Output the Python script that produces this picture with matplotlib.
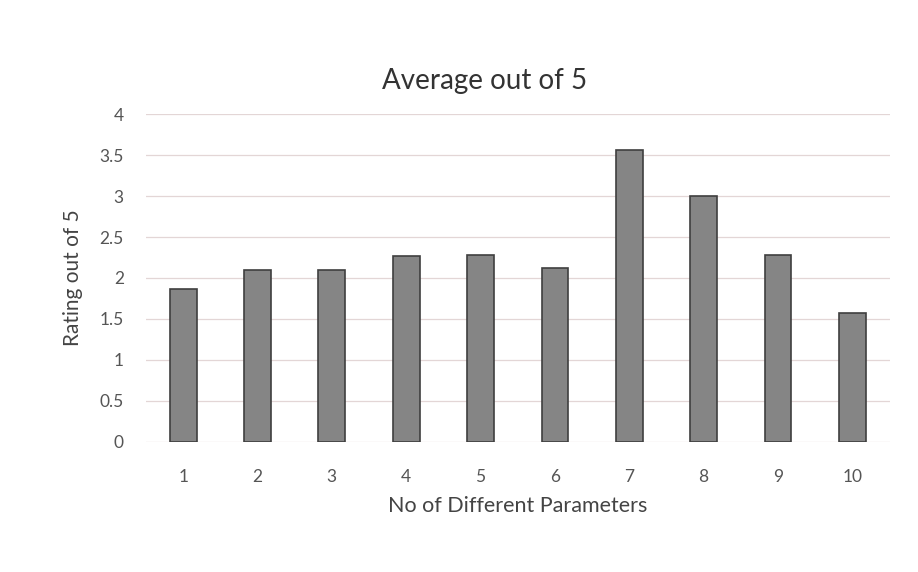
import matplotlib
matplotlib.use("Agg")
import matplotlib.pyplot as plt

# 数据：参数个数与平均评分
categories = [1, 2, 3, 4, 5, 6, 7, 8, 9, 10]
ratings = [1.86, 2.1, 2.1, 2.27, 2.28, 2.12, 3.56, 3.0, 2.28, 1.57]
y_ticks = [0, 0.5, 1, 1.5, 2, 2.5, 3, 3.5, 4]

plt.rcParams["font.family"] = ["Lato", "DejaVu Sans"]

fig = plt.figure(figsize=(9.18, 5.72), dpi=100)
ax = fig.add_axes([0.159, 0.228, 0.81, 0.572])

ax.bar(categories, ratings, width=0.36, color="#858585", edgecolor="#3f3f3f", linewidth=1.2, zorder=3)

ax.set_xlim(0.5, 10.5)
ax.set_ylim(0, 4)
ax.set_yticks(y_ticks)
ax.set_yticklabels([f"{v:g}" for v in y_ticks])
ax.set_xticks(categories)
ax.grid(axis="y", color="#e3d6d6", linewidth=0.9, zorder=0)
for s in ax.spines.values():
    s.set_visible(False)
ax.tick_params(length=0, labelsize=12.5, labelcolor="#555555")
ax.tick_params(axis="x", pad=20)
ax.tick_params(axis="y", pad=16)

ax.set_title("Average out of 5", fontsize=20, color="#333333", pad=18, x=0.455)
ax.set_xlabel("No of Different Parameters", fontsize=15.5, color="#444444", labelpad=8)
ax.set_ylabel("Rating out of 5", fontsize=15, color="#444444", labelpad=12)

fig.savefig("out.png", dpi=100, facecolor="white")
